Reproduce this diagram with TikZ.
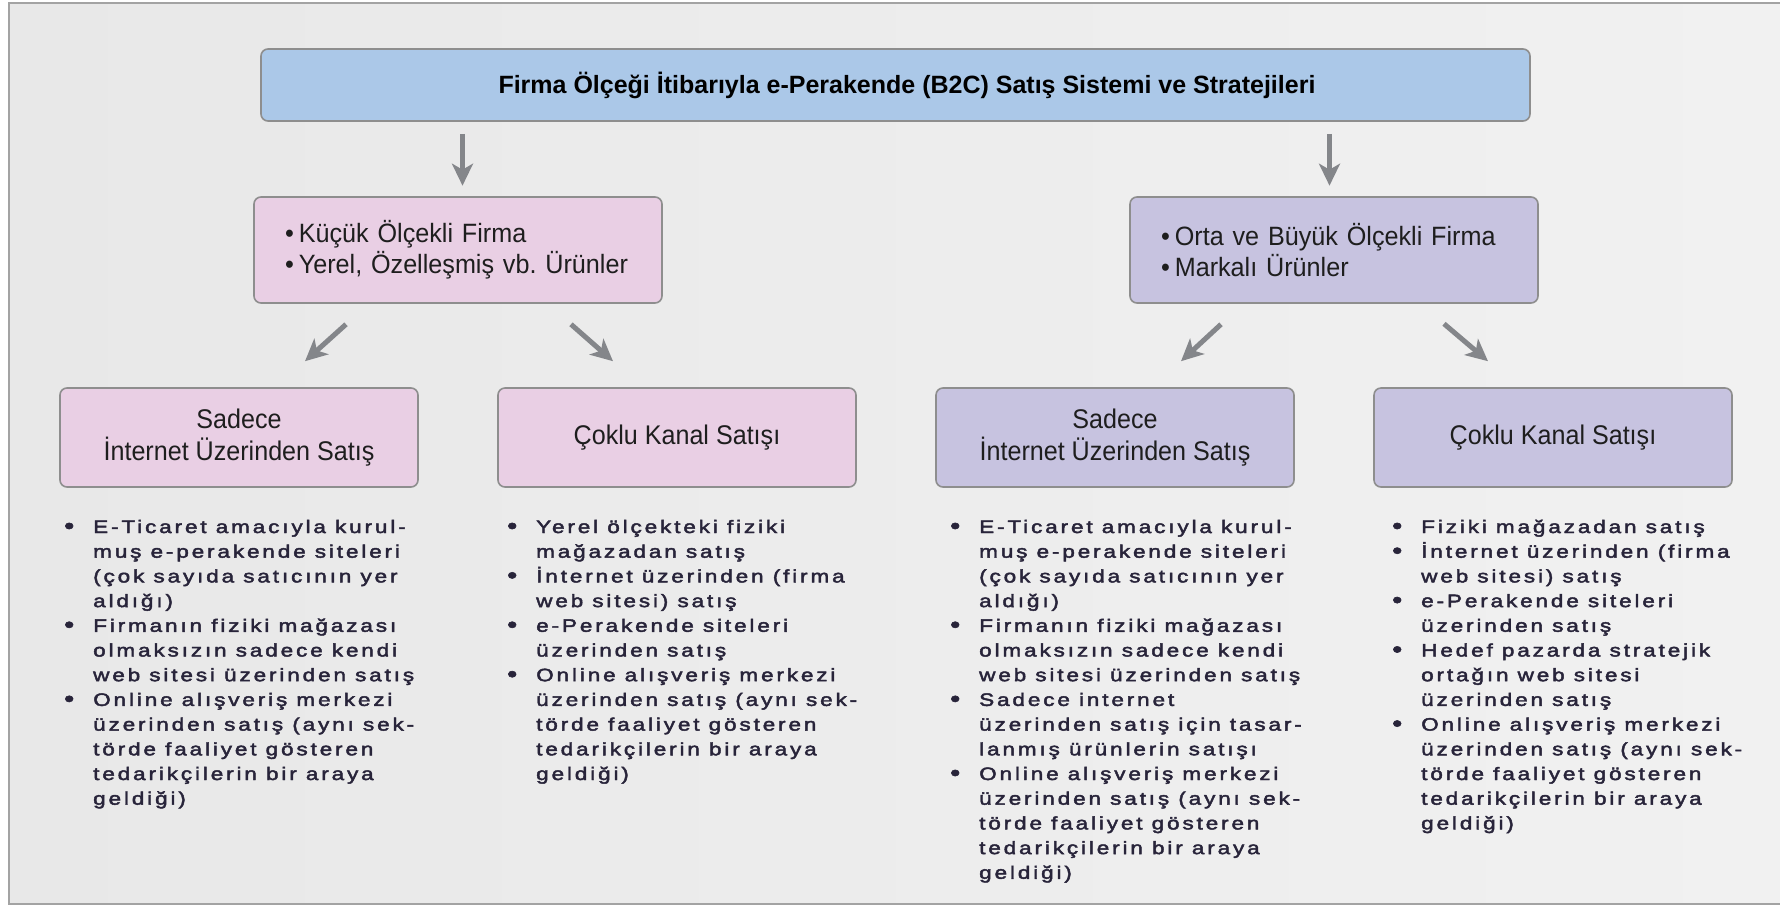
\documentclass[tikz,border=0pt]{standalone}
\usepackage{fontspec}
\setmainfont{Liberation Sans}
\newfontfamily\bodyfont[FakeStretch=1.25,LetterSpace=16,FakeBold=2.5]{Liberation Sans}
\newfontfamily\groupfont[FakeStretch=0.95]{Liberation Sans}
\newfontfamily\channelfont[FakeStretch=0.93]{Liberation Sans}
\usetikzlibrary{arrows.meta,calc}

\definecolor{bgL}{HTML}{E8E8E8}
\definecolor{bgR}{HTML}{F1F1F1}
\definecolor{framecol}{HTML}{A3A3A3}
\definecolor{edgecol}{HTML}{8E8E8E}
\definecolor{blueBox}{HTML}{ABC8E8}
\definecolor{pinkBox}{HTML}{E9CFE4}
\definecolor{lilacBox}{HTML}{C7C3E0}
\definecolor{arrowcol}{HTML}{84868A}
\definecolor{bodytext}{HTML}{28243A}
\definecolor{labeltext}{HTML}{1E1E1E}

% bullet hanging to the left of a list line
\newcommand\bul{\llap{\makebox[29pt][l]{\raisebox{-0.6pt}{\fontsize{23}{24}\selectfont•}}}}
% one unbreakable bulleted line inside a group box
\newcommand\gline[1]{\mbox{•\hspace{5pt}#1}}

\begin{document}
\begin{tikzpicture}[x=1pt,y=-1pt,
  box/.style={draw=edgecol, line width=1.6pt, rounded corners=7pt, inner sep=0pt, text=labeltext},
  titlebox/.style={box, fill=blueBox, minimum width=1269pt, minimum height=72pt,
    font=\fontsize{25}{30}\selectfont\bfseries, text=black},
  groupbox/.style={box, minimum width=408pt, minimum height=106pt, text width=346pt,
    inner xsep=31pt, align=left, font=\groupfont\fontsize{26.5}{31}\selectfont},
  channelbox/.style={box, minimum width=358pt, minimum height=99pt, align=center,
    font=\channelfont\fontsize{27}{32}\selectfont},
  bodylist/.style={anchor=base west, inner sep=0pt, text=bodytext,
    font=\bodyfont\fontsize{18}{24.7}\selectfont},
  arr/.style={draw=arrowcol, line width=5pt, -{Stealth[length=22pt,width=21pt,inset=6pt]}},
]
\useasboundingbox (0,0) rectangle (1780,906);

% page and framed panel
\fill[white] (0,0) rectangle (1780,906);
\fill[left color=bgL, right color=bgR] (9,3) rectangle (1780,904);
\draw[framecol, line width=2pt] (1781,3) -- (9,3) -- (9,904) -- (1781,904);

% boxes
\node[titlebox] (top) at (895.5,85)
  {\hspace*{23pt}Firma Ölçeği İtibarıyla e-Perakende (B2C) Satış Sistemi ve Stratejileri};

\node[groupbox, fill=pinkBox] (midL) at (458,250)
  {\gline{Küçük Ölçekli Firma}\\\gline{Yerel, Özelleşmiş vb.\ Ürünler}};
\node[groupbox, fill=lilacBox] (midR) at (1334,250)
  {\gline{Orta ve Büyük Ölçekli Firma}\\\gline{Markalı Ürünler}};

\node[channelbox, fill=pinkBox] (LL) at (239,437.5) {Sadece\\İnternet Üzerinden Satış};
\node[channelbox, fill=pinkBox] (LR) at (677,437.5) {Çoklu Kanal Satışı};
\node[channelbox, fill=lilacBox] (RL) at (1115,437.5) {Sadece\\İnternet Üzerinden Satış};
\node[channelbox, fill=lilacBox] (RR) at (1553,437.5) {Çoklu Kanal Satışı};

% connectors
\draw[arr] ($(top.south -| midL.north)+(4.5,12)$) -- ($(midL.north)+(4.5,-10.5)$);
\draw[arr] ($(top.south -| midR.north)+(-4.5,12)$) -- ($(midR.north)+(-4.5,-10.5)$);
\draw[arr] ($(midL.south)+(-112,20.5)$) -- ($(LL.north)+(66,-26)$);
\draw[arr] ($(midL.south)+(113,20.5)$) -- ($(LR.north)+(-64,-26)$);
\draw[arr] ($(midR.south)+(-113,20.5)$) -- ($(RL.north)+(66,-26)$);
\draw[arr] ($(midR.south)+(110,20)$) -- ($(RR.north)+(-65,-26)$);

% bullet lists under the channel boxes
\node[bodylist] (listLL) at (93,533) {\begin{tabular}[t]{@{}l@{}}
\bul E-Ticaret amacıyla kurul-\\
muş e-perakende siteleri\\
(çok sayıda satıcının yer\\
aldığı)\\
\bul Firmanın fiziki mağazası\\
olmaksızın sadece kendi\\
web sitesi üzerinden satış\\
\bul Online alışveriş merkezi\\
üzerinden satış (aynı sek-\\
törde faaliyet gösteren\\
tedarikçilerin bir araya\\
geldiği)
\end{tabular}};

\node[bodylist] (listLR) at (536,533) {\begin{tabular}[t]{@{}l@{}}
\bul Yerel ölçekteki fiziki\\
mağazadan satış\\
\bul İnternet üzerinden (firma\\
web sitesi) satış\\
\bul e-Perakende siteleri\\
üzerinden satış\\
\bul Online alışveriş merkezi\\
üzerinden satış (aynı sek-\\
törde faaliyet gösteren\\
tedarikçilerin bir araya\\
geldiği)
\end{tabular}};

\node[bodylist] (listRL) at (979,533) {\begin{tabular}[t]{@{}l@{}}
\bul E-Ticaret amacıyla kurul-\\
muş e-perakende siteleri\\
(çok sayıda satıcının yer\\
aldığı)\\
\bul Firmanın fiziki mağazası\\
olmaksızın sadece kendi\\
web sitesi üzerinden satış\\
\bul Sadece internet\\
üzerinden satış için tasar-\\
lanmış ürünlerin satışı\\
\bul Online alışveriş merkezi\\
üzerinden satış (aynı sek-\\
törde faaliyet gösteren\\
tedarikçilerin bir araya\\
geldiği)
\end{tabular}};

\node[bodylist] (listRR) at (1421,533) {\begin{tabular}[t]{@{}l@{}}
\bul Fiziki mağazadan satış\\
\bul İnternet üzerinden (firma\\
web sitesi) satış\\
\bul e-Perakende siteleri\\
üzerinden satış\\
\bul Hedef pazarda stratejik\\
ortağın web sitesi\\
üzerinden satış\\
\bul Online alışveriş merkezi\\
üzerinden satış (aynı sek-\\
törde faaliyet gösteren\\
tedarikçilerin bir araya\\
geldiği)
\end{tabular}};
\end{tikzpicture}
\end{document}
